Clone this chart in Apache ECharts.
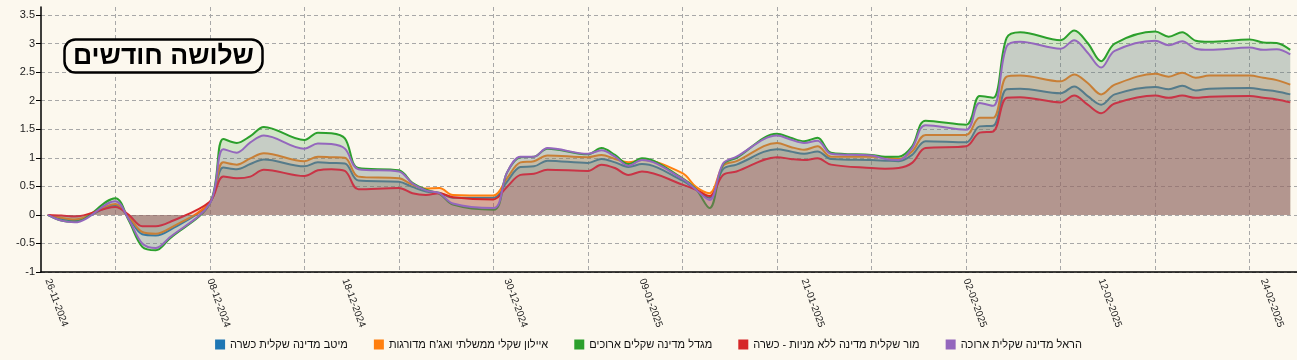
<!DOCTYPE html>
<html>
<head>
<meta charset="utf-8">
<script src="https://cdn.jsdelivr.net/npm/echarts@6/dist/echarts.min.js"></script>
<style>
html,body{margin:0;padding:0;background:#fcf8ee;}
#c{width:1297px;height:360px;}
</style>
</head>
<body>
<div id="c"></div>
<script>
// Trading days (x categories with data)
const dates = [
 '26-11-2024','27-11-2024','28-11-2024',
 '01-12-2024','02-12-2024','03-12-2024','04-12-2024','05-12-2024',
 '08-12-2024','09-12-2024','10-12-2024','11-12-2024','12-12-2024',
 '15-12-2024','16-12-2024','17-12-2024','18-12-2024','19-12-2024',
 '22-12-2024','23-12-2024','24-12-2024','25-12-2024','26-12-2024',
 '29-12-2024','30-12-2024','31-12-2024','01-01-2025','02-01-2025',
 '05-01-2025','06-01-2025','07-01-2025','08-01-2025','09-01-2025',
 '12-01-2025','13-01-2025','14-01-2025','15-01-2025','16-01-2025',
 '19-01-2025','20-01-2025','21-01-2025','22-01-2025','23-01-2025',
 '26-01-2025','27-01-2025','28-01-2025','29-01-2025','30-01-2025',
 '02-02-2025','03-02-2025','04-02-2025','05-02-2025','06-02-2025',
 '09-02-2025','10-02-2025','11-02-2025','12-02-2025','13-02-2025',
 '16-02-2025','17-02-2025','18-02-2025','19-02-2025','20-02-2025',
 '23-02-2025','24-02-2025','25-02-2025','26-02-2025'
];
// Tick labels shown on the x axis
const labelDates = ['26-11-2024','08-12-2024','18-12-2024','30-12-2024','09-01-2025','21-01-2025','02-02-2025','12-02-2025','24-02-2025'];
// Y scale
const yMin = -1, yMax = 3.64, yStep = 0.5;

const titleText = 'שלושה חודשים';
const names = [
 'מיטב מדינה שקלית כשרה',
 "איילון שקלי ממשלתי ואג'ח מדורגות",
 'מגדל מדינה שקלים ארוכים',
 'מור שקלית מדינה ללא מניות - כשרה',
 'הראל מדינה שקלית ארוכה'
];
const colors = ['#1f77b4','#ff7f0e','#2ca02c','#d62728','#9467bd'];

const meitav = [0,-0.07,-0.1,0.17,-0.05,-0.34,-0.36,-0.27,0.21,
 0.83,0.8,0.89,0.97,0.85,0.92,0.91,0.9,
 0.6,0.58,0.49,0.41,0.39,0.3,0.3,0.58,
 0.84,0.85,0.95,0.91,0.98,0.92,0.84,0.89,
 0.6,0.44,0.3,0.8,0.88,1.15,1.11,1.07,
 1.11,0.98,0.96,0.95,0.94,1.05,1.29,1.27,
 1.55,1.56,2.2,2.21,2.13,2.25,2.08,1.93,
 2.11,2.24,2.2,2.26,2.18,2.21,2.22,2.19,
 2.16,2.11];
const ayalon = [0,-0.05,-0.08,0.19,-0.03,-0.3,-0.33,-0.24,0.22,
 0.92,0.88,0.99,1.08,0.94,1.02,1.01,1.0,
 0.67,0.64,0.53,0.46,0.47,0.35,0.34,0.64,
 0.92,0.94,1.04,1.01,1.05,0.98,0.92,0.96,
 0.73,0.49,0.38,0.86,0.94,1.26,1.19,1.14,
 1.2,1.02,1.02,1.01,0.98,1.11,1.4,1.4,
 1.7,1.7,2.42,2.44,2.34,2.46,2.31,2.11,
 2.28,2.47,2.42,2.49,2.4,2.44,2.44,2.4,
 2.36,2.28];
const migdal = [0,-0.1,-0.12,0.29,-0.1,-0.56,-0.62,-0.42,0.2,
 1.33,1.26,1.38,1.54,1.31,1.44,1.43,1.34,
 0.82,0.78,0.56,0.44,0.37,0.18,0.09,0.74,
 1.01,1.02,1.16,1.06,1.17,1.05,0.89,0.99,
 0.64,0.45,0.12,0.88,1.0,1.42,1.35,1.29,
 1.35,1.09,1.05,1.02,1.02,1.2,1.65,1.58,
 2.08,2.05,3.1,3.2,3.06,3.23,3.01,2.69,
 3.0,3.21,3.12,3.2,3.05,3.03,3.07,3.02,
 3.01,2.89];
const mor = [0,-0.01,-0.03,0.14,0.0,-0.2,-0.2,-0.13,0.23,
 0.67,0.64,0.67,0.79,0.68,0.78,0.8,0.77,
 0.45,0.47,0.38,0.35,0.38,0.31,0.27,0.49,
 0.7,0.72,0.79,0.77,0.88,0.82,0.7,0.76,
 0.53,0.44,0.33,0.7,0.76,1.01,0.98,0.96,
 0.99,0.88,0.82,0.81,0.82,0.91,1.17,1.2,
 1.44,1.46,2.05,2.06,1.97,2.09,1.93,1.78,
 1.95,2.09,2.05,2.09,2.05,2.07,2.08,2.05,
 2.02,1.97];
const harel = [0,-0.1,-0.13,0.24,-0.08,-0.5,-0.58,-0.4,0.2,
 1.15,1.09,1.27,1.39,1.16,1.25,1.24,1.16,
 0.8,0.76,0.55,0.43,0.38,0.2,0.12,0.74,
 1.02,1.02,1.17,1.07,1.13,1.02,0.86,0.96,
 0.63,0.44,0.26,0.9,1.02,1.39,1.32,1.26,
 1.3,1.07,1.04,0.98,0.96,1.17,1.57,1.49,
 1.96,1.91,2.95,3.03,2.91,3.06,2.84,2.58,
 2.87,3.05,2.97,3.04,2.91,2.89,2.93,2.89,
 2.9,2.81];

const values = [meitav, ayalon, migdal, mor, harel];

// Build calendar-day category axis
function parse(s){const p=s.split('-');return Date.UTC(+p[2],+p[1]-1,+p[0]);}
function fmt(t){const d=new Date(t);const dd=String(d.getUTCDate()).padStart(2,'0');const mm=String(d.getUTCMonth()+1).padStart(2,'0');return dd+'-'+mm+'-'+d.getUTCFullYear();}
const DAY=86400000;
const cal=[];
for(let t=parse(dates[0]);t<=parse(dates[dates.length-1]);t+=DAY) cal.push(fmt(t));
const tradeIdx = {}; dates.forEach((d,i)=>tradeIdx[d]=i);
const labelSet = new Set(labelDates);
const isSunday = v => new Date(parse(v)).getUTCDay()===0;

const FONT = "'Liberation Sans', 'DejaVu Sans', Arial, sans-serif";
const bandW = 13.607;

const chart = echarts.init(document.getElementById('c'), null, {renderer:'canvas'});
chart.setOption({
  animation:false,
  backgroundColor:'#fcf8ee',
  textStyle:{fontFamily:FONT},
  title:{
    text:titleText, left:64, top:39,
    textStyle:{fontSize:26.5, fontWeight:'bold', color:'#000', fontFamily:FONT},
    borderColor:'#000', borderWidth:2.5, borderRadius:11,
    padding:[4,9,3,9], backgroundColor:'#fcf8ee'
  },
  legend:{
    bottom:5, left:'center', icon:'rect', itemWidth:10, itemHeight:10, itemGap:26,
    textStyle:{fontSize:11, color:'#111', fontFamily:FONT},
    data:names
  },
  grid:{left:41, top:7, height:265, width:bandW*cal.length, containLabel:false},
  xAxis:{
    type:'category', data:cal, boundaryGap:true,
    axisLine:{onZero:false, lineStyle:{color:'#000', width:1.5}},
    axisTick:{alignWithLabel:true, length:5, interval:(i,v)=>v in tradeIdx, lineStyle:{color:'#000', width:1}},
    axisLabel:{interval:(i,v)=>labelSet.has(v), rotate:-70, fontSize:10, color:'#222', margin:7, fontFamily:FONT},
    splitLine:{show:true, alignWithLabel:true, interval:(i,v)=>isSunday(v), lineStyle:{color:'#a8a8a8', width:1, type:[4,3]}}
  },
  yAxis:{
    type:'value', min:yMin, max:yMax, interval:yStep,
    axisLine:{show:true, lineStyle:{color:'#000', width:1.5}},
    axisTick:{show:true, length:5, lineStyle:{color:'#000'}},
    axisLabel:{fontSize:11, color:'#222', margin:6, fontFamily:FONT, showMaxLabel:false,
      formatter:v => (Math.abs(v/yStep - Math.round(v/yStep)) < 1e-6) ? String(v) : ''},
    splitLine:{showMaxLine:false, lineStyle:{color:'#a8a8a8', width:1, type:[4,3]}}
  },
  series: names.map((n,k)=>({
    type:'line', name:n, z:2+k,
    data: cal.map(c => (c in tradeIdx) ? values[k][tradeIdx[c]] : null),
    connectNulls:true, smooth:0.35, showSymbol:false, symbol:'none',
    lineStyle:{width:2, color:colors[k]},
    itemStyle:{color:colors[k]},
    areaStyle:{color:colors[k], opacity:0.2}
  }))
});
</script>
</body>
</html>
